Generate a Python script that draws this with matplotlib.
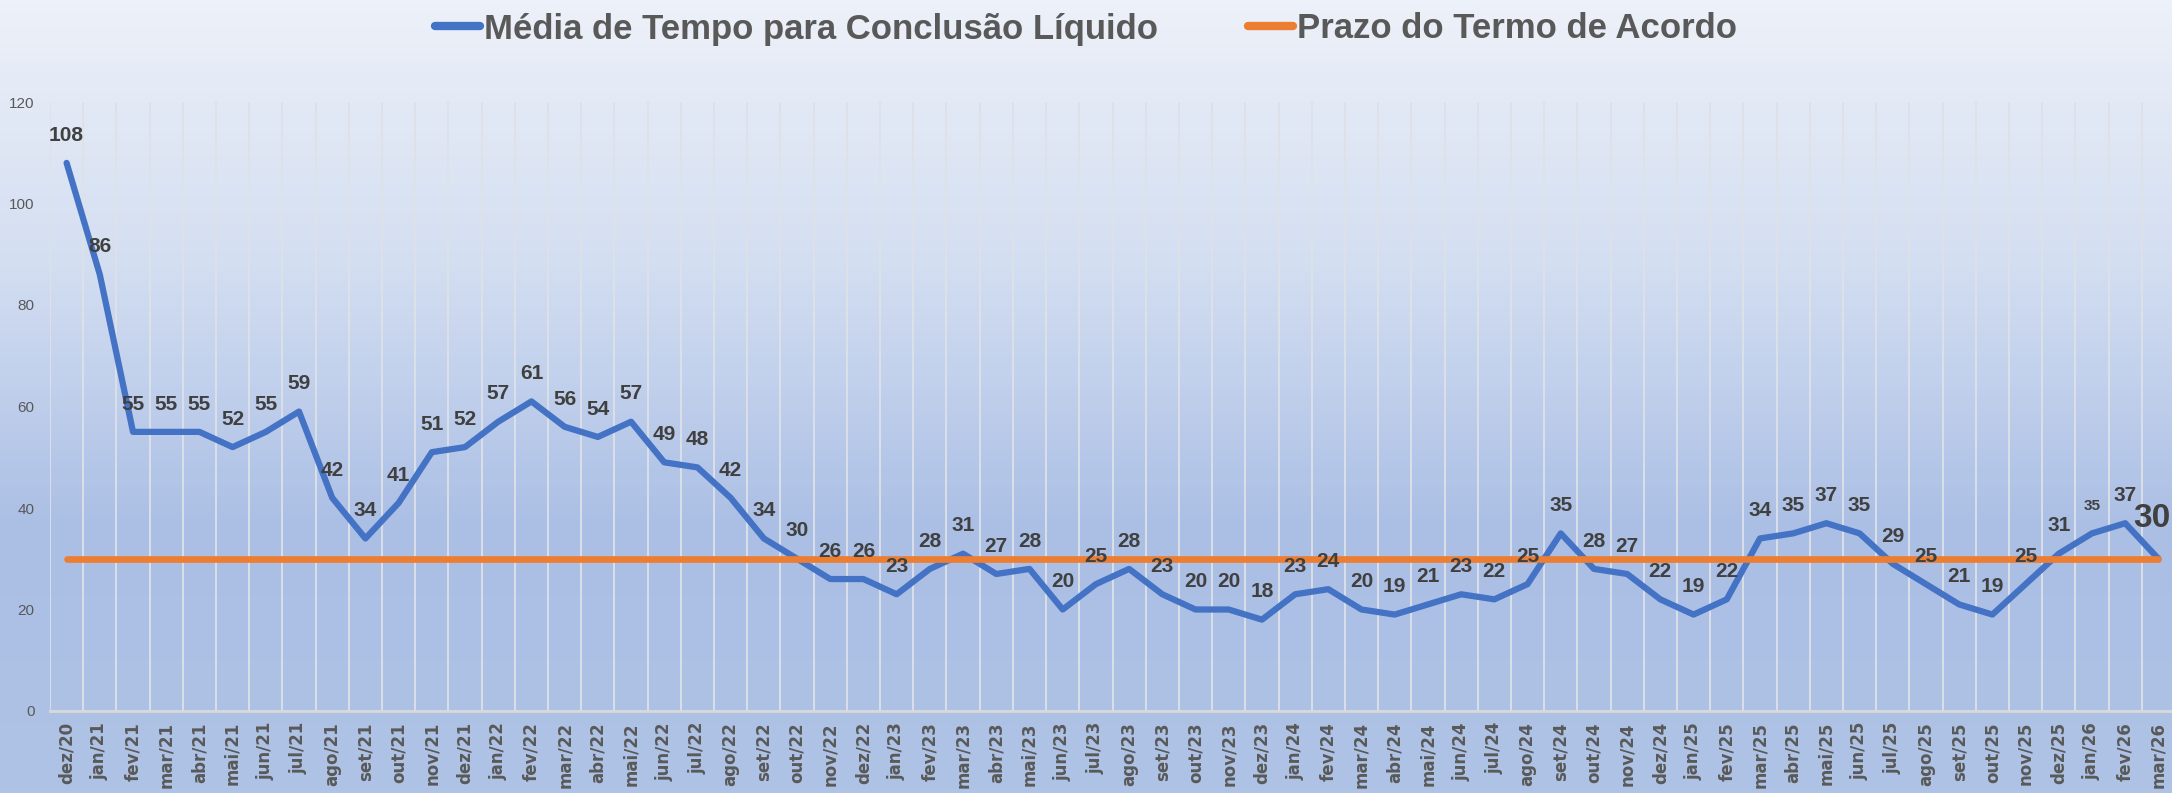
import matplotlib
matplotlib.use("Agg")
import matplotlib.pyplot as plt
from matplotlib.lines import Line2D
from matplotlib.colors import LinearSegmentedColormap
import numpy as np

meses = ["dez/20",
         "jan/21", "fev/21", "mar/21", "abr/21", "mai/21", "jun/21",
         "jul/21", "ago/21", "set/21", "out/21", "nov/21", "dez/21",
         "jan/22", "fev/22", "mar/22", "abr/22", "mai/22", "jun/22",
         "jul/22", "ago/22", "set/22", "out/22", "nov/22", "dez/22",
         "jan/23", "fev/23", "mar/23", "abr/23", "mai/23", "jun/23",
         "jul/23", "ago/23", "set/23", "out/23", "nov/23", "dez/23",
         "jan/24", "fev/24", "mar/24", "abr/24", "mai/24", "jun/24",
         "jul/24", "ago/24", "set/24", "out/24", "nov/24", "dez/24",
         "jan/25", "fev/25", "mar/25", "abr/25", "mai/25", "jun/25",
         "jul/25", "ago/25", "set/25", "out/25", "nov/25", "dez/25",
         "jan/26", "fev/26", "mar/26"]

tempo_medio = [108,
               86, 55, 55, 55, 52, 55, 59, 42, 34, 41, 51, 52,
               57, 61, 56, 54, 57, 49, 48, 42, 34, 30, 26, 26,
               23, 28, 31, 27, 28, 20, 25, 28, 23, 20, 20, 18,
               23, 24, 20, 19, 21, 23, 22, 25, 35, 28, 27, 22,
               19, 22, 34, 35, 37, 35, 29, 25, 21, 19, 25, 31,
               35, 37, 30]

prazo = [30] * len(meses)

serie_nome = "Média de Tempo para Conclusão Líquido"
prazo_nome = "Prazo do Termo de Acordo"

azul = "#4472C4"
laranja = "#ED7D31"
cinza = "#595959"
cinza_escuro = "#404040"

W, H = 2172, 793
fig = plt.figure(figsize=(W / 100, H / 100), dpi=100)

# gradient background over the whole figure
bg = fig.add_axes([0, 0, 1, 1], zorder=-10)
grad = LinearSegmentedColormap.from_list("bg", ["#EDF1F9", "#D3DEF1", "#ABBFE5", "#AFC3E6"])
bg.imshow(np.linspace(0, 1, 256).reshape(-1, 1), aspect="auto", cmap=grad,
          extent=[0, 1, 0, 1])
bg.axis("off")

ax = fig.add_axes([50 / W, 1 - 711 / H, 2125 / W, 609 / H])
ax.set_facecolor("none")
x = np.arange(len(meses))

ax.plot(x, tempo_medio, color=azul, lw=4.5, solid_joinstyle="round",
        solid_capstyle="round", zorder=3)
ax.plot(x, prazo, color=laranja, lw=4.8, solid_capstyle="round", zorder=4)

ax.set_xlim(-0.5, len(meses) - 0.5)
ax.set_ylim(0, 120)
ax.set_yticks(range(0, 121, 20))
ax.set_xticks(x)
ax.set_xticklabels(meses, rotation=90, fontsize=12, fontweight="bold",
                   color=cinza, family="DejaVu Sans", va="top")
ax.tick_params(axis="x", length=0, pad=8)
ax.tick_params(axis="y", length=0, pad=11, labelsize=11, labelcolor=cinza)
for lab in ax.get_yticklabels():
    lab.set_family("Liberation Sans")

# vertical gridlines between categories
for b in np.arange(-0.5, len(meses), 1.0):
    ax.axvline(b, color="#DEE1E7", lw=1.3, zorder=1)
for s in ["top", "right", "left"]:
    ax.spines[s].set_visible(False)
ax.spines["bottom"].set_color("#D9D9D9")
ax.spines["bottom"].set_linewidth(2)

# data labels
for i, v in enumerate(tempo_medio):
    fs = 15
    dx, dy, ha = 0, 20, "center"
    if i == len(meses) - 3:
        fs = 11
    if i == len(meses) - 1:
        fs = 24
        dx, dy, ha = -18, 29, "left"
    ax.annotate(str(v), (i, v), xytext=(dx, dy), textcoords="offset points",
                ha=ha, va="center", fontsize=fs, fontweight="bold",
                color=cinza_escuro, family="Liberation Sans", zorder=5,
                annotation_clip=False)

handles = [Line2D([0], [0], color=azul, lw=6, solid_capstyle="round"),
           Line2D([0], [0], color=laranja, lw=6, solid_capstyle="round")]
leg = fig.legend(handles, [serie_nome, prazo_nome], loc="center",
                 bbox_to_anchor=(0.5, 1 - 29 / H), ncol=2, frameon=False,
                 handlelength=1.3, handletextpad=0.1, columnspacing=2.6,
                 prop={"family": "Liberation Sans", "weight": "bold", "size": 25})
for t in leg.get_texts():
    t.set_color(cinza)

fig.savefig("out.png", dpi=100)
